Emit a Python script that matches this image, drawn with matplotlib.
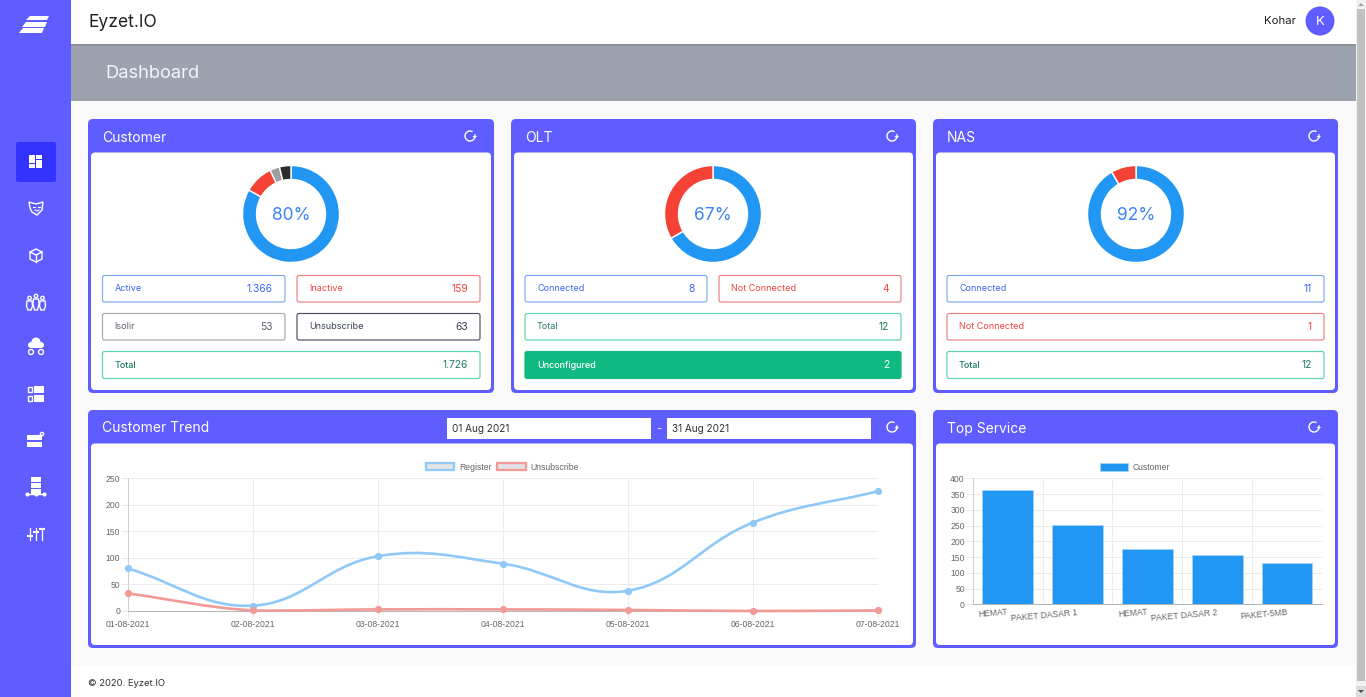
import matplotlib
matplotlib.use("Agg")
import numpy as np
import matplotlib.pyplot as plt
from matplotlib.patches import FancyBboxPatch, Rectangle, Circle, Polygon, Arc, PathPatch, Patch
from matplotlib.path import Path

W, H = 1366, 697
PURPLE = "#5f5dff"
UI_FONT = ["Inter", "DejaVu Sans"]
plt.rcParams["font.family"] = ["Liberation Sans", "DejaVu Sans"]

# data
customer_values = [1366, 159, 53, 63]
customer_colors = ["#2196f3", "#f44336", "#9e9e9e", "#2d2d2d"]
olt_values = [8, 4]
nas_values = [11, 1]
two_colors = ["#2196f3", "#f44336"]

trend_dates = ["01-08-2021", "02-08-2021", "03-08-2021", "04-08-2021", "05-08-2021", "06-08-2021", "07-08-2021"]
trend_register = [80, 10, 103, 89, 38, 166, 225]
trend_unsubscribe = [33, 1, 3, 3, 2, 0, 1]

service_names = ["HEMAT", "PAKET DASAR 1", "HEMAT", "PAKET DASAR 2", "PAKET-5MB"]
service_customers = [364, 253, 176, 156, 130]

fig = plt.figure(figsize=(W / 100, H / 100), dpi=100, facecolor="#fafafa")
bg = fig.add_axes([0, 0, 1, 1])
bg.set_xlim(0, W)
bg.set_ylim(H, 0)
bg.axis("off")


def rect(x0, y0, x1, y1, color, z=1):
    bg.add_patch(Rectangle((x0, y0), x1 - x0, y1 - y0, fc=color, ec="none", zorder=z))


def rbox(x0, y0, x1, y1, r=3, fc="white", ec="none", lw=1.0, z=2):
    bg.add_patch(FancyBboxPatch((x0, y0), x1 - x0, y1 - y0, boxstyle="round,pad=0,rounding_size=%s" % r,
                                fc=fc, ec=ec, lw=lw, zorder=z))


def label(x, y, s, size=7, color="#333333", ha="left", weight="normal"):
    # the ui font sits a bit high with va=center, so push it down
    bg.text(x, y + size * 0.17, s, fontsize=size, color=color, ha=ha, va="center", fontweight=weight,
            family=UI_FONT, zorder=6)


def inset(x0, y0, x1, y1):
    return fig.add_axes([x0 / W, 1 - y1 / H, (x1 - x0) / W, (y1 - y0) / H])


def refresh(x, y):
    bg.add_patch(Arc((x, y), 10, 10, theta1=-20, theta2=300, ec="white", lw=1.0, zorder=6))
    bg.add_patch(Polygon([[x + 2.5, y], [x + 7, y], [x + 4.7, y + 2.5]], fc="white", ec="none", zorder=6))


def card(x0, y0, x1, y1, title):
    rbox(x0, y0, x1, y1, r=5, fc=PURPLE)
    rbox(x0 + 3, y0 + 33.5, x1 - 3, y1 - 3, r=4, fc="white", z=3)
    label(x0 + 14, y0 + 16.8, title, size=10, color="white")
    refresh(x1 - 24, y0 + 17)


def donut(cx, cy, values, colors, text):
    r = 50
    ax = inset(cx - r, cy - r, cx + r, cy + r)
    ax.pie(values, colors=colors, startangle=90, counterclock=False, radius=0.97,
           wedgeprops=dict(width=0.28, edgecolor="white", linewidth=1.0))
    ax.set_xlim(-1, 1)
    ax.set_ylim(-1, 1)
    ax.text(0, -0.02, text, fontsize=12.5, color="#3b82f6", ha="center", va="center", family=UI_FONT)


def stat(x0, y0, x1, y1, name, value, color, text, fill="white", weight="normal"):
    rbox(x0, y0, x1, y1, r=2, fc=fill, ec=color, lw=0.85, z=3)
    label(x0 + 12, (y0 + y1) / 2 - 1, name, size=6.5, color=text, weight=weight)
    label(x1 - 12, (y0 + y1) / 2 - 1, value, size=7.4, color=text, ha="right")


def spline_path(values, ymax):
    # same bezier smoothing as the web chart, tension 0.4, distances in pixels
    sx, sy = 749.5 / 6, 133.0 / 250
    xs = np.arange(len(values), dtype=float)
    ys = np.array(values, dtype=float)
    verts = [(xs[0], ys[0])]
    codes = [Path.MOVETO]
    before, after = [], []
    n = len(xs)
    for i in range(n):
        p = max(i - 1, 0)
        q = min(i + 1, n - 1)
        d01 = np.hypot((xs[i] - xs[p]) * sx, (ys[i] - ys[p]) * sy)
        d12 = np.hypot((xs[q] - xs[i]) * sx, (ys[q] - ys[i]) * sy)
        tot = d01 + d12
        fa = 0.4 * d01 / tot
        fb = 0.4 * d12 / tot
        # control points are capped to the chart area
        before.append((xs[i] - fa * (xs[q] - xs[p]), np.clip(ys[i] - fa * (ys[q] - ys[p]), 0, ymax)))
        after.append((xs[i] + fb * (xs[q] - xs[p]), np.clip(ys[i] + fb * (ys[q] - ys[p]), 0, ymax)))
    for i in range(1, n):
        verts += [after[i - 1], before[i], (xs[i], ys[i])]
        codes += [Path.CURVE4] * 3
    return Path(verts, codes)


def style_axis(ax):
    ax.set_facecolor("none")
    ax.grid(True, color="#ececec", lw=0.7)
    ax.set_axisbelow(True)
    for s in ["top", "right"]:
        ax.spines[s].set_visible(False)
    ax.spines["left"].set_color("#cfcfcf")
    ax.spines["bottom"].set_color("#b5b5b5")
    ax.spines["left"].set_linewidth(0.7)
    ax.spines["bottom"].set_linewidth(0.7)
    ax.tick_params(axis="both", length=5, width=0.7, color="#e8e8e8", labelsize=6.2, labelcolor="#666666")
    ax.tick_params(axis="y", pad=0.6)
    ax.tick_params(axis="x", pad=1.5)


# page chrome
rect(0, 0, 71, H, PURPLE, z=5)
rect(71, 0, W, 44, "white", z=2)
rect(71, 44, W, 46, "#8a8f98", z=2)
rect(71, 45, W, 101, "#9ca3af", z=1)
rect(71, 665, W, H, "white", z=1)
rect(1356, 0, W, H, "#f1f1f1", z=5)
rect(1357, 9, 1365, 681, "#c1c1c1", z=5)
rect(1356, 686, W, H, "#dcdcdc", z=5)
bg.add_patch(Polygon([[1358, 6], [1364, 6], [1361, 3]], fc="#a0a0a0", ec="none", zorder=6))
bg.add_patch(Polygon([[1358, 690], [1364, 690], [1361, 693]], fc="#505050", ec="none", zorder=6))

label(88, 20, "Eyzet.IO", size=12.6, color="#222222")
label(105, 71, "Dashboard", size=13.2, color="#f3f4f6")
label(1264, 20, "Kohar", size=8.2, color="#222222")
bg.add_patch(Circle((1320, 21), 14.5, fc=PURPLE, ec="none", zorder=4))
label(1320, 20, "K", size=9.5, color="white", ha="center")
label(88, 682, "\u00a9 2020. Eyzet.IO", size=6.8, color="#333333")

# logo stripes
for y, h, x0, x1 in [(16, 4, 30, 49), (22, 5, 26, 47), (28, 5, 23, 44)]:
    bg.add_patch(Polygon([[x0, y], [x1, y], [x1 - 2, y + h], [x0 - 4, y + h]], fc="white", ec="none", zorder=6))

# sidebar icons
rbox(16, 142, 56, 182, r=2, fc="#3333ff", z=6)
for x0, y0, x1, y1 in [(29, 155, 35, 163), (29, 164, 35, 168), (36, 155, 42, 159), (36, 160, 42, 168)]:
    rect(x0, y0, x1, y1, "white", z=7)
WH = dict(fc="none", ec="white", lw=1.0, zorder=7)
bg.add_patch(Polygon([[29, 202], [36, 204], [43, 202], [42, 210], [37, 215], [32, 212], [30, 208]], **WH))
bg.plot([33, 35], [207, 207], color="white", lw=0.8, zorder=7)
bg.plot([38, 40], [207, 207], color="white", lw=0.8, zorder=7)
bg.plot([35, 37, 39], [210, 211, 210], color="white", lw=0.8, zorder=7)
bg.add_patch(Polygon([[36, 249], [42, 252], [42, 259], [36, 262], [30, 259], [30, 252]], **WH))
bg.plot([30, 36, 42], [252, 255, 252], color="white", lw=1, zorder=7)
bg.plot([36, 36], [255, 262], color="white", lw=1, zorder=7)
for x, top in [(29.5, 298), (36, 296), (42.5, 298)]:
    bg.add_patch(Circle((x, top), 1.7, **WH))
    bg.add_patch(Polygon([[x - 1.5, 310], [x - 3, top + 8], [x - 2.5, top + 3], [x + 2.5, top + 3], [x + 3, top + 8], [x + 1.5, 310]], **WH))
rbox(28, 342, 44, 348, r=3, fc="white", z=7)
bg.add_patch(Circle((36, 342), 4.5, fc="white", ec="none", zorder=7))
for x in [31, 41]:
    bg.add_patch(Circle((x, 352), 2.5, **WH))
for y in [387, 396]:
    bg.add_patch(Rectangle((27.5, y), 4.5, 4.5, **WH))
    rect(34, y - 1, 44, y + 6, "white", z=7)
for y in [436, 443]:
    rect(27, y - 1, 42, y + 4, "white", z=7)
bg.add_patch(Circle((42, 434), 1.6, **WH))
for y in [479, 485, 491]:
    rect(31, y - 2, 41, y + 3, "white", z=7)
bg.plot([27, 36, 44], [494, 494, 494], color="white", lw=1, zorder=7, marker="o", ms=2)
for x, y in [(30, 536), (36, 532), (42, 529)]:
    bg.plot([x, x], [528, 540], color="white", lw=0.9, zorder=7)
    bg.plot([x - 2, x + 2], [y, y], color="white", lw=1.5, zorder=7)

# top cards
card(88, 119, 494, 393, "Customer")
card(511, 119, 916, 393, "OLT")
card(933, 119, 1338, 393, "NAS")

donut(291, 214, customer_values, customer_colors, "80%")
donut(713, 214, olt_values, two_colors, "67%")
donut(1136, 214, nas_values, two_colors, "92%")

BLUE, BLUE_T = "#7aa9f5", "#3a66f5"
RED, RED_T = "#e98080", "#ef4444"
GRAY, GRAY_T = "#a8a8ae", "#5b6270"
DARK, DARK_T = "#4b5163", "#374151"
GREEN, GREEN_T = "#5ad6aa", "#1f7a68"
stat(102.5, 275.5, 285, 302, "Active", "1.366", BLUE, BLUE_T)
stat(297, 275.5, 480, 302, "Inactive", "159", RED, RED_T)
stat(102.5, 313.5, 285, 340, "Isolir", "53", GRAY, GRAY_T)
stat(297, 313.5, 480, 340, "Unsubscribe", "63", DARK, DARK_T)
stat(102.5, 351.5, 480, 378.5, "Total", "1.726", GREEN, GREEN_T, weight="medium")

stat(525, 275.5, 707, 302, "Connected", "8", BLUE, BLUE_T)
stat(719, 275.5, 901, 302, "Not Connected", "4", RED, RED_T)
stat(525, 313.5, 901, 340, "Total", "12", GREEN, GREEN_T)
stat(525, 351.5, 901, 378.5, "Unconfigured", "2", "#10b981", "white", fill="#10b981", weight="medium")

stat(947, 275.5, 1324, 302, "Connected", "11", BLUE, BLUE_T)
stat(947, 313.5, 1324, 340, "Not Connected", "1", RED, RED_T)
stat(947, 351.5, 1324, 378.5, "Total", "12", GREEN, GREEN_T, weight="medium")

# bottom cards
card(88, 410, 916, 648, "Customer Trend")
card(933, 410, 1338, 648, "Top Service")
for x0, x1, s in [(447, 651, "01 Aug 2021"), (667, 871, "31 Aug 2021")]:
    rect(x0, 418, x1, 439, "white", z=4)
    label(x0 + 5, 427.5, s, size=7.2, color="#333333")
label(659, 427.5, "-", size=8, color="white", ha="center")

# trend chart
ax = inset(128, 478, 877.5, 611)
style_axis(ax)
ax.set_xlim(0, 6)
ax.set_ylim(0, 250)
ax.set_xticks(range(len(trend_dates)))
ax.set_xticklabels(trend_dates)
ax.set_yticks(range(0, 251, 50))
for values, color in [(trend_register, "#90c8f8"), (trend_unsubscribe, "#f29a95")]:
    ax.add_patch(PathPatch(spline_path(values, 250), fc="none", ec=color, lw=1.9, clip_on=False, zorder=3))
    ax.plot(trend_dates, values, ls="none", marker="o", ms=4.2, color=color, clip_on=False, zorder=4)
ax.legend(handles=[Patch(fc="#e3e3e3", ec="#90c8f8", lw=1.6, label="Register"),
                   Patch(fc="#e3e3e3", ec="#f29a95", lw=1.6, label="Unsubscribe")],
          loc="lower center", bbox_to_anchor=(0.4995, 1.0), ncol=2, frameon=False, borderpad=0.2,
          prop=dict(size=6.2), labelcolor="#666666", handlelength=3.3, handleheight=1.0,
          handletextpad=0.5, columnspacing=0.7, borderaxespad=0.55)

# service chart
ax = inset(972.7, 478.3, 1322, 604.3)
style_axis(ax)
pos = np.arange(len(service_names))
ax.bar(pos, service_customers, width=0.725, color="#2196f3", edgecolor="#a9d3f7", linewidth=0.6, zorder=3)
ax.set_xlim(-0.5, 4.5)
ax.set_ylim(0, 400)
ax.set_yticks(range(0, 401, 50))
ax.set_xticks(pos)
ax.set_xticklabels(service_names, rotation=5, ha="right", rotation_mode="anchor")
ax.tick_params(axis="x", length=0, pad=2.5)
ax.grid(False, axis="x")
for e in np.arange(-0.5, 4.6, 1):
    ax.axvline(e, color="#ececec", lw=0.7, zorder=0)
ax.legend(handles=[Patch(fc="#2196f3", ec="#a9d3f7", lw=0.6, label="Customer")],
          loc="lower center", bbox_to_anchor=(0.465, 1.0), frameon=False, borderpad=0.2,
          prop=dict(size=6.2), labelcolor="#666666", handlelength=3.3, handleheight=1.0,
          handletextpad=0.5, borderaxespad=0.55)

fig.savefig("out.png", dpi=100, facecolor=fig.get_facecolor())
